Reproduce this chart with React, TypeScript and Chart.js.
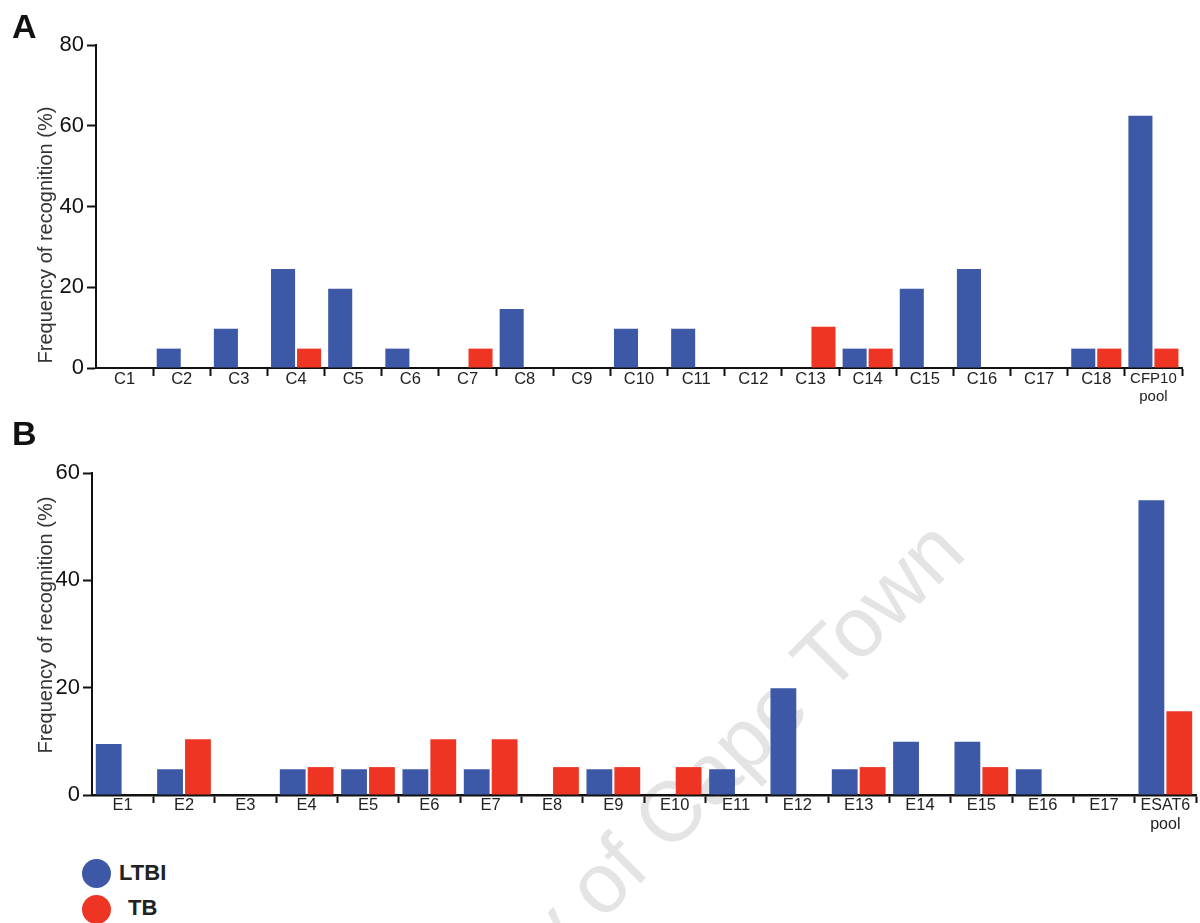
import React, { useEffect, useRef } from 'react';
import { Chart, registerables } from 'chart.js';

Chart.register(...registerables);

const FONT = '"Liberation Sans", Arial, Helvetica, sans-serif';
const BLUE = '#3d58a7';
const RED = '#ee3524';
const AXIS = '#111111';

// Panel A: CFP10 peptides
const cfp10Labels: (string | string[])[] = [
  'C1', 'C2', 'C3', 'C4', 'C5', 'C6', 'C7', 'C8', 'C9', 'C10',
  'C11', 'C12', 'C13', 'C14', 'C15', 'C16', 'C17', 'C18', ['CFP10', 'pool'],
];
const cfp10Ltbi = [0, 4.8, 9.7, 24.5, 19.6, 4.8, 0, 14.6, 0, 9.7, 9.7, 0, 0, 4.8, 19.6, 24.5, 0, 4.8, 62.5];
const cfp10Tb = [0, 0, 0, 4.8, 0, 0, 4.8, 0, 0, 0, 0, 0, 10.2, 4.8, 0, 0, 0, 4.8, 4.8];
const cfp10Max = 80;

// Panel B: ESAT6 peptides
const esat6Labels: (string | string[])[] = [
  'E1', 'E2', 'E3', 'E4', 'E5', 'E6', 'E7', 'E8', 'E9', 'E10',
  'E11', 'E12', 'E13', 'E14', 'E15', 'E16', 'E17', ['ESAT6', 'pool'],
];
const esat6Ltbi = [9.5, 4.8, 0, 4.8, 4.8, 4.8, 4.8, 0, 4.8, 0, 4.8, 19.9, 4.8, 9.9, 9.9, 4.8, 0, 54.9];
const esat6Tb = [0, 10.4, 0, 5.2, 5.2, 10.4, 10.4, 5.2, 5.2, 5.2, 0, 0, 5.2, 0, 5.2, 0, 0, 15.6];
const esat6Max = 60;

const yTicksStep = 20;
const yTitle = 'Frequency of recognition (%)';
const seriesNames = ['LTBI', 'TB'];

type PanelProps = {
  labels: (string | string[])[];
  ltbi: number[];
  tb: number[];
  yMax: number;
  top: number;
  height: number;
  yWidth: number;
  padTop: number;
  padRight: number;
  xHeight: number;
  labelSize: number;
  poolSize: number;
  labelPad: number;
  titleY: number;
  axisWidth: number;
};

function BarPanel(p: PanelProps) {
  const ref = useRef<HTMLCanvasElement | null>(null);

  useEffect(() => {
    if (!ref.current) return;
    const last = p.labels.length - 1;

    const titlePlugin = {
      id: 'sideTitle',
      afterDraw(chart: any) {
        const ctx = chart.ctx;
        ctx.save();
        ctx.translate(46, p.titleY);
        ctx.rotate(-Math.PI / 2);
        ctx.font = `20px ${FONT}`;
        ctx.fillStyle = '#333333';
        ctx.textAlign = 'center';
        ctx.textBaseline = 'middle';
        ctx.fillText(yTitle, 0, 0);
        ctx.restore();
      },
    };

    const chart = new Chart(ref.current, {
      type: 'bar',
      data: {
        labels: p.labels,
        datasets: [
          {
            label: seriesNames[0],
            data: p.ltbi,
            backgroundColor: BLUE,
            borderWidth: 0,
            categoryPercentage: 0.91,
            barPercentage: 0.925,
          },
          {
            label: seriesNames[1],
            data: p.tb,
            backgroundColor: RED,
            borderWidth: 0,
            categoryPercentage: 0.91,
            barPercentage: 0.925,
          },
        ],
      },
      options: {
        responsive: false,
        maintainAspectRatio: false,
        animation: false,
        layout: { padding: { top: p.padTop, right: p.padRight, left: 0, bottom: 0 } },
        plugins: {
          legend: { display: false },
          tooltip: { enabled: false },
        },
        scales: {
          x: {
            offset: true,
            grid: {
              offset: true,
              drawOnChartArea: false,
              drawTicks: true,
              tickLength: 8,
              tickWidth: 2,
              tickColor: (c: any) => (c.index === 0 ? 'rgba(0,0,0,0)' : AXIS),
            },
            border: { display: true, color: AXIS, width: p.axisWidth },
            ticks: {
              autoSkip: false,
              maxRotation: 0,
              minRotation: 0,
              color: '#222222',
              padding: p.labelPad,
              font: (c: any) => ({
                family: FONT,
                size: c.index === last ? p.poolSize : p.labelSize,
                lineHeight: 1.2,
              }),
            },
            afterFit: (s: any) => {
              s.height = p.xHeight;
            },
          },
          y: {
            min: 0,
            max: p.yMax,
            ticks: {
              stepSize: yTicksStep,
              color: AXIS,
              padding: 3,
              font: { family: FONT, size: 22 },
            },
            grid: {
              drawOnChartArea: false,
              drawTicks: true,
              tickLength: 9,
              tickWidth: 2,
              tickColor: AXIS,
            },
            border: { display: true, color: AXIS, width: 2 },
            afterFit: (s: any) => {
              s.width = p.yWidth;
            },
          },
        },
      } as any,
      plugins: [titlePlugin],
    });

    return () => chart.destroy();
  }, []);

  return (
    <canvas
      ref={ref}
      width={1200}
      height={p.height}
      style={{ position: 'absolute', left: 0, top: p.top, width: 1200, height: p.height, display: 'block' }}
    />
  );
}

const letterStyle: React.CSSProperties = {
  position: 'absolute',
  fontFamily: FONT,
  fontWeight: 'bold',
  fontSize: 34,
  lineHeight: 1,
  color: '#111111',
};

const legendText: React.CSSProperties = {
  position: 'absolute',
  fontFamily: FONT,
  fontWeight: 'bold',
  fontSize: 22,
  lineHeight: 1,
  color: '#222222',
};

const dot = (color: string, cy: number): React.CSSProperties => ({
  position: 'absolute',
  left: 82,
  top: cy - 14.5,
  width: 29,
  height: 29,
  borderRadius: '50%',
  background: color,
});

export default function App() {
  return (
    <div
      style={{
        position: 'absolute',
        left: 0,
        top: 0,
        width: 1200,
        height: 923,
        overflow: 'hidden',
        background: '#ffffff',
      }}
    >
      <div
        style={{
          position: 'absolute',
          left: 624,
          top: 858,
          transform: 'translate(-50%, -50%) rotate(-45deg)',
          fontFamily: FONT,
          fontSize: 85,
          lineHeight: 1,
          whiteSpace: 'nowrap',
          color: '#e4e4e4',
        }}
      >
        University of Cape Town
      </div>

      <BarPanel
        labels={cfp10Labels}
        ltbi={cfp10Ltbi}
        tb={cfp10Tb}
        yMax={cfp10Max}
        top={0}
        height={420}
        yWidth={96}
        padTop={45}
        padRight={18}
        xHeight={52}
        labelSize={16.5}
        poolSize={15}
        labelPad={-6}
        titleY={235}
        axisWidth={2}
      />
      <BarPanel
        labels={esat6Labels}
        ltbi={esat6Ltbi}
        tb={esat6Tb}
        yMax={esat6Max}
        top={420}
        height={430}
        yWidth={92}
        padTop={53}
        padRight={4}
        xHeight={55}
        labelSize={16.5}
        poolSize={16}
        labelPad={-7}
        titleY={205}
        axisWidth={2.5}
      />

      <div style={{ ...letterStyle, left: 12, top: 8.6 }}>A</div>
      <div style={{ ...letterStyle, left: 12, top: 415.5 }}>B</div>

      <div style={dot(BLUE, 873.5)} />
      <div style={{ ...legendText, left: 119, top: 862 }}>{seriesNames[0]}</div>
      <div style={dot(RED, 909.5)} />
      <div style={{ ...legendText, left: 128, top: 897 }}>{seriesNames[1]}</div>
    </div>
  );
}
